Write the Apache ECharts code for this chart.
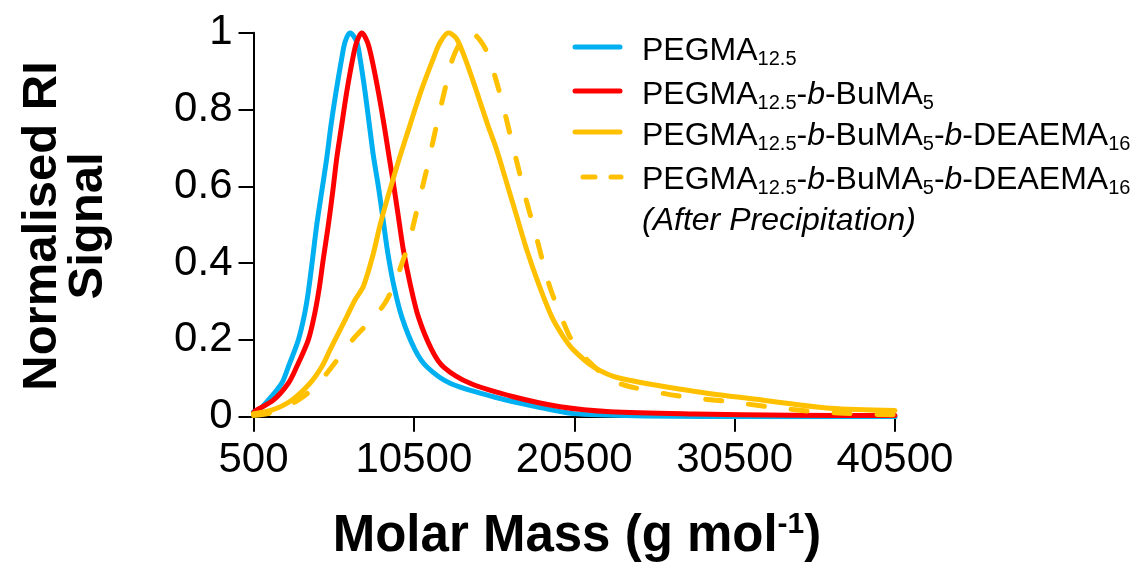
<!DOCTYPE html>
<html><head><meta charset="utf-8">
<script src="https://cdn.jsdelivr.net/npm/echarts@6/dist/echarts.min.js"></script>
<style>html,body{margin:0;padding:0;background:#fff}#c{width:1142px;height:562px}</style>
</head><body><div id="c"></div>
<script>
// ---- data ----
const xTickValues = [500, 10500, 20500, 30500, 40500];
const yTickValues = [0, 0.2, 0.4, 0.6, 0.8, 1];

const pegmaMass   = [500, 900, 1423, 2259, 2670, 3297, 3650, 3900, 4150, 4442, 4754, 5066, 5334, 5646, 6001, 6208, 6520, 6937, 7144, 7456, 7724, 7974, 8285, 8559, 8846, 9221, 9745, 10574, 11304, 12758, 15459, 18166, 20449, 25000, 32000, 40500];
const pegmaSignal = [0.012, 0.02, 0.043, 0.087, 0.130, 0.20, 0.26, 0.32, 0.40, 0.499, 0.586, 0.673, 0.760, 0.846, 0.933, 0.976, 1.0, 0.976, 0.933, 0.846, 0.760, 0.68, 0.60, 0.52, 0.434, 0.347, 0.260, 0.174, 0.130, 0.087, 0.052, 0.026, 0.008, 0.002, 0.0, 0.0];

const buMass   = [500, 600, 1735, 2670, 3194, 3918, 4300, 4600, 4850, 5166, 5440, 5690, 6002, 6314, 6688, 6937, 7250, 7600, 7873, 8285, 8641, 8971, 9221, 9533, 9845, 10262, 10780, 11616, 12340, 14005, 16706, 19620, 22740, 28000, 34000, 40500];
const buSignal = [0.01, 0.015, 0.043, 0.087, 0.130, 0.20, 0.265, 0.335, 0.41, 0.499, 0.586, 0.673, 0.760, 0.846, 0.933, 0.976, 1.0, 0.976, 0.933, 0.846, 0.760, 0.673, 0.608, 0.521, 0.434, 0.347, 0.260, 0.174, 0.130, 0.087, 0.052, 0.026, 0.013, 0.007, 0.004, 0.003];

const deaemaMass   = [500, 1635, 2883, 4025, 4754, 5272, 5790, 6310, 6830, 7349, 7973, 8391, 8971, 9595, 10262, 10930, 11716, 12100, 12652, 13150, 13693, 14420, 15107, 15671, 16295, 16919, 17543, 18266, 19102, 19825, 20449, 21697, 23363, 28147, 32302, 36462, 40500];
const deaemaSignal = [0.008, 0.017, 0.043, 0.087, 0.130, 0.174, 0.217, 0.26, 0.304, 0.339, 0.425, 0.499, 0.586, 0.673, 0.760, 0.846, 0.933, 0.972, 1.0, 0.985, 0.933, 0.846, 0.760, 0.694, 0.608, 0.521, 0.434, 0.347, 0.260, 0.208, 0.174, 0.130, 0.100, 0.065, 0.043, 0.022, 0.016];

const precipMass   = [500, 1400, 2030, 3280, 4340, 5150, 6080, 6830, 7950, 8700, 9330, 9830, 10140, 10570, 10900, 11250, 11600, 12000, 12450, 12900, 13400, 13900, 14300, 14800, 15200, 15600, 16000, 16500, 17000, 17500, 18000, 18500, 19000, 19600, 20200, 20800, 21500, 22700, 24000, 27311, 30224, 32925, 35633, 38400, 40500];
const precipSignal = [0.003, 0.008, 0.017, 0.043, 0.078, 0.117, 0.168, 0.208, 0.257, 0.296, 0.35, 0.408, 0.445, 0.517, 0.575, 0.635, 0.70, 0.775, 0.855, 0.93, 0.975, 1.0, 0.995, 0.97, 0.935, 0.88, 0.82, 0.735, 0.65, 0.565, 0.49, 0.41, 0.335, 0.27, 0.21, 0.172, 0.14, 0.098, 0.078, 0.052, 0.039, 0.024, 0.013, 0.007, 0.005];

const seriesNames = [
  'PEGMA12.5',
  'PEGMA12.5-b-BuMA5',
  'PEGMA12.5-b-BuMA5-b-DEAEMA16',
  'PEGMA12.5-b-BuMA5-b-DEAEMA16 (After Precipitation)'
];

// ---- chart ----
const FONT = "'Liberation Sans', Arial, sans-serif";
const BLUE = '#00B0F0', RED = '#FF0000', YEL = '#FFC000';
const zip = (xs, ys) => xs.map((x, i) => [x, ys[i]]);

const sub = { fontFamily: FONT, fontSize: 20, lineHeight: 20, verticalAlign: 'bottom', color: '#000' };
const nrm = { fontFamily: FONT, fontSize: 32, lineHeight: 36, verticalAlign: 'middle', color: '#000' };
const ita = { fontFamily: FONT, fontSize: 32, lineHeight: 36, verticalAlign: 'middle', fontStyle: 'italic', color: '#000' };
const legendRich = { s: sub, n: nrm, i: ita };

const legendTexts = [
  '{n|PEGMA}{s|12.5}',
  '{n|PEGMA}{s|12.5}{n|-}{i|b}{n|-BuMA}{s|5}',
  '{n|PEGMA}{s|12.5}{n|-}{i|b}{n|-BuMA}{s|5}{n|-}{i|b}{n|-DEAEMA}{s|16}',
  '{n|PEGMA}{s|12.5}{n|-}{i|b}{n|-BuMA}{s|5}{n|-}{i|b}{n|-DEAEMA}{s|16}',
  '{i|(After Precipitation)}'
];
const legendTextY = [51, 95, 136, 180, 221];
const legendLineY = [47, 91, 132, 177];
const legendColors = [BLUE, RED, YEL, YEL];

const graphics = [];
legendLineY.forEach((y, k) => {
  const dashed = k === 3;
  graphics.push({
    type: 'line', silent: true,
    shape: dashed ? { x1: 583, y1: y, x2: 621, y2: y } : { x1: 575, y1: y, x2: 620, y2: y },
    style: { stroke: legendColors[k], lineWidth: 5, lineCap: 'round', lineDash: dashed ? [12, 16] : null }
  });
});
legendTexts.forEach((t, k) => {
  graphics.push({
    type: 'text', silent: true, x: 642, y: legendTextY[k],
    style: { text: t, rich: legendRich, align: 'left', verticalAlign: 'middle' }
  });
});
graphics.push({
  type: 'text', silent: true, x: 65, y: 226, rotation: Math.PI / 2,
  style: { text: 'Normalised RI\nSignal', fontFamily: FONT, fontWeight: 'bold', fontSize: 49, lineHeight: 46,
           align: 'center', verticalAlign: 'middle', fill: '#000' }
});
graphics.push({
  type: 'text', silent: true, x: 577, y: 537,
  style: { text: '{t|Molar Mass (g mol}{p|-1}{t|)}', align: 'center', verticalAlign: 'middle',
    rich: {
      t: { fontFamily: FONT, fontWeight: 'bold', fontSize: 51, lineHeight: 54, verticalAlign: 'middle', color: '#000' },
      p: { fontFamily: FONT, fontWeight: 'bold', fontSize: 30, lineHeight: 30, verticalAlign: 'top', color: '#000' }
    } }
});

const lineSeries = (name, xs, ys, color, dash) => ({
  name, type: 'line', data: zip(xs, ys), smooth: 0.3, symbol: 'none',
  lineStyle: { color, width: 5, cap: 'round', join: 'round', type: dash || 'solid' }
});

const chart = echarts.init(document.getElementById('c'), null, { renderer: 'canvas' });
chart.setOption({
  animation: false,
  backgroundColor: '#fff',
  grid: { left: 253.5, right: 247, top: 32.7, bottom: 145.3, containLabel: false },
  xAxis: {
    type: 'value', min: 500, max: 40500,
    splitLine: { show: false },
    axisLine: { show: true, onZero: false, lineStyle: { color: '#000', width: 2 } },
    axisTick: { show: true, customValues: xTickValues, length: 15, lineStyle: { color: '#000', width: 2 } },
    axisLabel: { customValues: xTickValues, fontFamily: FONT, fontSize: 42, color: '#000', margin: 23,
                 formatter: v => String(v) }
  },
  yAxis: {
    type: 'value', min: 0, max: 1, interval: 0.2,
    splitLine: { show: false },
    axisLine: { show: true, lineStyle: { color: '#000', width: 2 } },
    axisTick: { show: true, length: 15, lineStyle: { color: '#000', width: 2 } },
    axisLabel: { fontFamily: FONT, fontSize: 42, color: '#000', margin: 21,
                 formatter: v => String(Math.round(v * 10) / 10) }
  },
  series: [
    lineSeries(seriesNames[0], pegmaMass, pegmaSignal, BLUE),
    lineSeries(seriesNames[1], buMass, buSignal, RED),
    lineSeries(seriesNames[2], deaemaMass, deaemaSignal, YEL),
    lineSeries(seriesNames[3], precipMass, precipSignal, YEL, [16, 27])
  ],
  graphic: graphics
});
</script></body></html>
